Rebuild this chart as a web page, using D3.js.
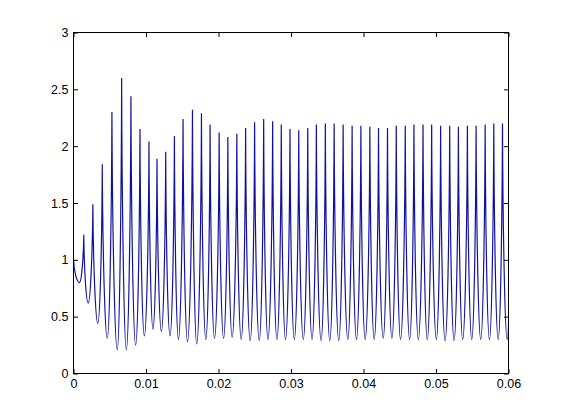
<!DOCTYPE html>
<html>
<head>
<meta charset="utf-8">
<script src="https://cdn.jsdelivr.net/npm/d3@7"></script>
<style>
body { margin: 0; background: #fff; }
.tick text { font-family: "Liberation Sans", Arial, sans-serif; font-size: 12.5px; fill: #000; }
.tick line { stroke: #000; }
</style>
</head>
<body>
<script>
// Turning points of the trace (peaks and troughs)
var tPts = [0, 0.00083, 0.00142, 0.00203, 0.00267, 0.00336, 0.00397, 0.00466, 0.00530, 0.00604,
	0.00664, 0.00729, 0.00792, 0.00857, 0.00917, 0.00977, 0.01041, 0.01096, 0.01152, 0.01212,
	0.01272, 0.01331, 0.01392, 0.01447, 0.01511, 0.01572, 0.01641, 0.01700, 0.01765, 0.01825,
	0.01884, 0.01945, 0.02009, 0.02070, 0.02129, 0.02188, 0.02253, 0.02313, 0.02374, 0.02437,
	0.02498, 0.02562, 0.02623, 0.02682, 0.02747, 0.02806, 0.02866, 0.02924, 0.02986, 0.03046,
	0.03107, 0.03170, 0.03231, 0.03290, 0.03350, 0.03415, 0.03474, 0.03535, 0.03595, 0.03659,
	0.03719, 0.03784, 0.03843, 0.03903, 0.03964, 0.04023, 0.04088, 0.04148, 0.04207, 0.04272,
	0.04331, 0.04392, 0.04452, 0.04511, 0.04576, 0.04636, 0.04696, 0.04756, 0.04821, 0.04880,
	0.04940, 0.05005, 0.05064, 0.05125, 0.05189, 0.05249, 0.05309, 0.05368, 0.05433, 0.05493,
	0.05553, 0.05617, 0.05678, 0.05737, 0.05797, 0.05858, 0.05917, 0.05982, 0.06];
var yPts = [1.00, 0.80, 1.22, 0.62, 1.49, 0.44, 1.84, 0.31, 2.30, 0.21,
	2.60, 0.21, 2.44, 0.25, 2.15, 0.33, 2.04, 0.39, 1.89, 0.37,
	1.95, 0.33, 2.09, 0.30, 2.24, 0.28, 2.32, 0.26, 2.29, 0.30,
	2.19, 0.31, 2.12, 0.31, 2.08, 0.32, 2.11, 0.30, 2.16, 0.29,
	2.21, 0.29, 2.24, 0.30, 2.22, 0.30, 2.19, 0.30, 2.15, 0.30,
	2.14, 0.30, 2.16, 0.30, 2.19, 0.29, 2.20, 0.29, 2.20, 0.29,
	2.19, 0.30, 2.18, 0.30, 2.18, 0.30, 2.17, 0.30, 2.16, 0.31,
	2.16, 0.31, 2.18, 0.30, 2.18, 0.30, 2.19, 0.30, 2.19, 0.30,
	2.19, 0.30, 2.18, 0.29, 2.18, 0.29, 2.17, 0.30, 2.18, 0.30,
	2.18, 0.30, 2.19, 0.30, 2.20, 0.30, 2.20, 0.30, 0.45];

// Tick values and labels
var xTicks = [0, 0.01, 0.02, 0.03, 0.04, 0.05, 0.06];
var xTickLabels = ["0", "0.01", "0.02", "0.03", "0.04", "0.05", "0.06"];
var yTicks = [0, 0.5, 1, 1.5, 2, 2.5, 3];
var yTickLabels = ["0", "0.5", "1", "1.5", "2", "2.5", "3"];

// Size and plot box
var width = 561, height = 420;
var boxLeft = 73.5, boxRight = 508.5, boxTop = 32.5, boxBottom = 373.5;
var tickLen = 4.5;

var svg = d3.select("body").append("svg")
	.attr("width", width)
	.attr("height", height);

svg.append("rect") // white figure
	.attr("width", width)
	.attr("height", height)
	.attr("fill", "#fff");

var x = d3.scaleLinear().domain([0, 0.06]).range([boxLeft, boxRight]);
var y = d3.scaleLinear().domain([0, 3]).range([boxBottom, boxTop]);

// curve with rounded troughs and thin spiky peaks
function spikeCurve(context) {
	var pts = [];
	return {
		areaStart: function () {},
		areaEnd: function () {},
		lineStart: function () { pts = []; },
		point: function (px, py) { pts.push([+px, +py]); },
		lineEnd: function () {
			var A = 0.45, B = 0.5, S = 0.08;
			context.moveTo(pts[0][0], pts[0][1]);
			for (var i = 1; i < pts.length; i++) {
				var p0 = pts[i - 1], p1 = pts[i];
				var dx = p1[0] - p0[0];
				var dy = Math.abs(p1[1] - p0[1]);
				if (p1[1] < p0[1]) { // going up
					context.bezierCurveTo(p0[0] + A * dx, p0[1], p1[0] - S * dx, p1[1] + B * dy, p1[0], p1[1]);
				} else { // going down
					context.bezierCurveTo(p0[0] + S * dx, p0[1] + B * dy, p1[0] - A * dx, p1[1], p1[0], p1[1]);
				}
			}
		}
	};
}

var line = d3.line()
	.x(function (d, i) { return x(tPts[i]); })
	.y(function (d, i) { return y(yPts[i]); })
	.curve(spikeCurve);

svg.append("path")
	.datum(tPts)
	.attr("d", line)
	.attr("fill", "none")
	.attr("stroke", "#1212a0")
	.attr("stroke-width", 1.2);

// Axes, ticks pointing inward on all four sides
svg.append("g")
	.attr("transform", "translate(0," + boxBottom + ")")
	.call(d3.axisBottom(x).tickValues(xTicks)
		.tickFormat(function (d, i) { return xTickLabels[i]; })
		.tickSizeInner(-tickLen).tickSizeOuter(0).tickPadding(6));
svg.append("g")
	.attr("transform", "translate(0," + boxTop + ")")
	.call(d3.axisTop(x).tickValues(xTicks).tickFormat("")
		.tickSizeInner(-tickLen).tickSizeOuter(0));
svg.append("g")
	.attr("transform", "translate(" + boxLeft + ",0)")
	.call(d3.axisLeft(y).tickValues(yTicks)
		.tickFormat(function (d, i) { return yTickLabels[i]; })
		.tickSizeInner(-tickLen).tickSizeOuter(0).tickPadding(5));
svg.append("g")
	.attr("transform", "translate(" + boxRight + ",0)")
	.call(d3.axisRight(y).tickValues(yTicks).tickFormat("")
		.tickSizeInner(-tickLen).tickSizeOuter(0));

svg.selectAll(".domain").remove();

svg.append("rect") // axes box
	.attr("x", boxLeft)
	.attr("y", boxTop)
	.attr("width", boxRight - boxLeft)
	.attr("height", boxBottom - boxTop)
	.attr("fill", "none")
	.attr("stroke", "#000")
	.attr("stroke-width", 1);
</script>
</body>
</html>
